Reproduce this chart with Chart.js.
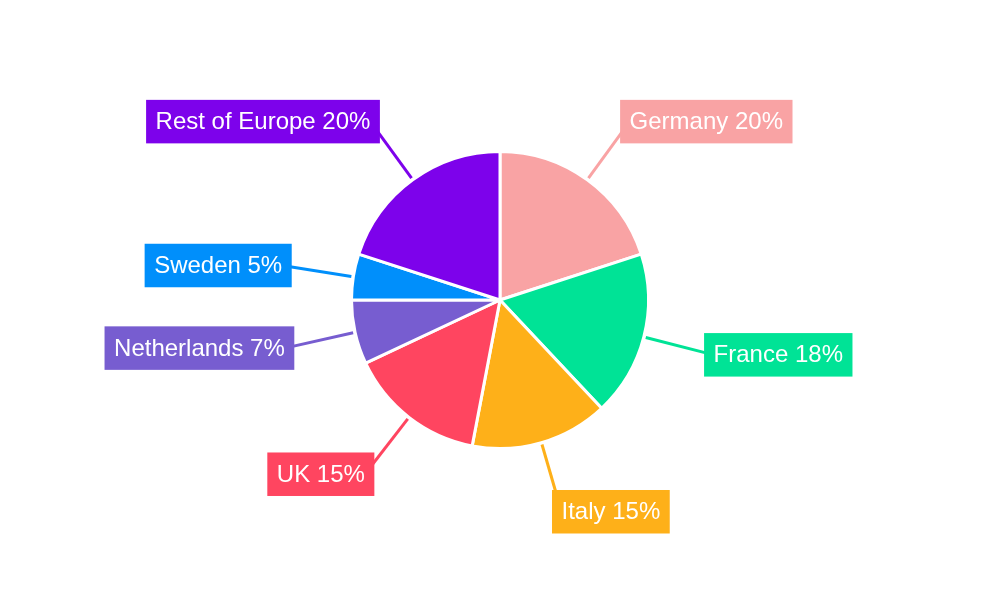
<!DOCTYPE html>
<html>
<head>
<meta charset="utf-8">
<script src="https://cdn.jsdelivr.net/npm/chart.js@4.4.0/dist/chart.umd.min.js"></script>
<style>
  html, body { margin: 0; padding: 0; background: #ffffff; }
  #wrap { width: 1000px; height: 600px; position: relative; }
</style>
</head>
<body>
<div id="wrap"><canvas id="c" width="1000" height="600"></canvas></div>
<script>
const categories = ["Germany", "France", "Italy", "UK", "Netherlands", "Sweden", "Rest of Europe"];
const shares = [20, 18, 15, 15, 7, 5, 20];
const colors = ["#F9A3A4", "#00E396", "#FEB019", "#FF4560", "#775DD0", "#008FFB", "#7D02EB"];

const calloutPlugin = {
  id: 'callouts',
  afterDatasetsDraw(chart) {
    const ctx = chart.ctx;
    const meta = chart.getDatasetMeta(0);
    const ds = chart.data.datasets[0];
    ctx.save();
    ctx.font = '24px "Liberation Sans", Arial, sans-serif';
    ctx.textBaseline = 'middle';
    meta.data.forEach((arc, i) => {
      const p = arc.getProps(['x', 'y', 'startAngle', 'endAngle', 'outerRadius'], true);
      const mid = (p.startAngle + p.endAngle) / 2;
      const vx = Math.cos(mid), vy = Math.sin(mid);
      const r0 = p.outerRadius + 2;
      const r1 = p.outerRadius + 72;
      const sx = p.x + vx * r0, sy = p.y + vy * r0;
      const lx = p.x + vx * r1, ly = p.y + vy * r1;
      const col = ds.backgroundColor[i];
      // connector
      ctx.strokeStyle = col;
      ctx.lineWidth = 3;
      ctx.beginPath();
      ctx.moveTo(sx, sy);
      ctx.lineTo(lx, ly);
      ctx.stroke();
      // label box
      const text = chart.data.labels[i] + ' ' + ds.data[i] + '%';
      const tw = ctx.measureText(text).width;
      const pad = 9.5, h = 43.5;
      const right = vx >= 0;
      const bx = right ? lx - pad : lx - tw - pad;
      ctx.fillStyle = col;
      ctx.fillRect(bx, ly - h / 2, tw + 2 * pad, h);
      ctx.fillStyle = '#ffffff';
      ctx.textAlign = right ? 'left' : 'right';
      ctx.fillText(text, lx, ly + 1);
    });
    ctx.restore();
  }
};

new Chart(document.getElementById('c'), {
  type: 'pie',
  data: {
    labels: categories,
    datasets: [{
      data: shares,
      backgroundColor: colors,
      borderColor: '#ffffff',
      borderWidth: 3,
      hoverOffset: 0
    }]
  },
  options: {
    responsive: false,
    animation: false,
    layout: { padding: { top: 150, bottom: 150, left: 0, right: 0 } },
    plugins: {
      legend: { display: false },
      tooltip: { enabled: false }
    }
  },
  plugins: [calloutPlugin]
});
</script>
</body>
</html>
